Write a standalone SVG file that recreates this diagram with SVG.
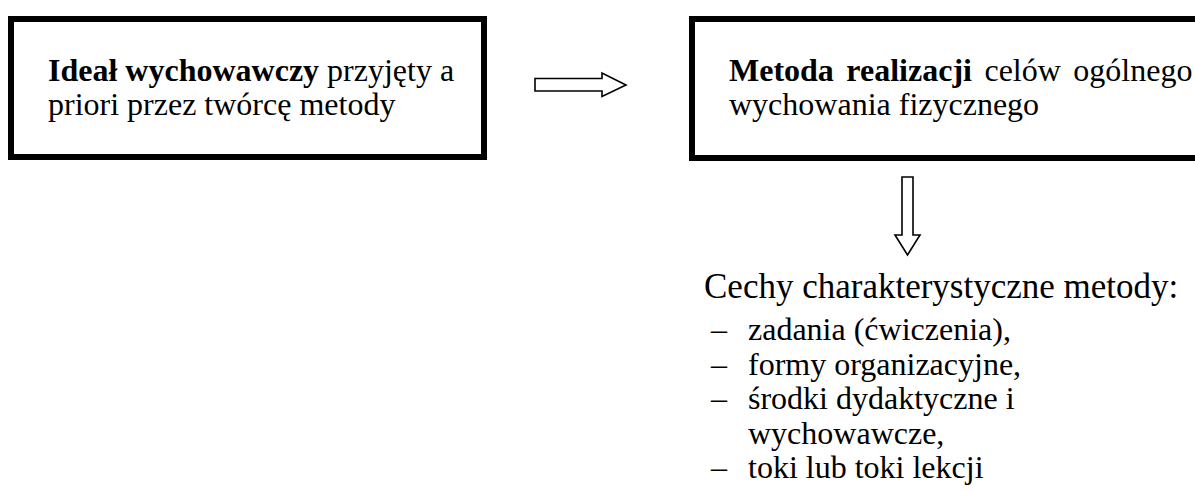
<svg xmlns="http://www.w3.org/2000/svg" width="1195" height="491" viewBox="0 0 1195 491">
  <style>
    .box { fill: #ffffff; stroke: #000000; stroke-width: 6; }
    .txt { font-family: "Liberation Serif", "Times New Roman", serif; font-size: 32px; fill: #000000; }
    .lead { font-size: 35px; }
    .b { font-weight: bold; }
    .arrow { fill: #ffffff; stroke: #000000; stroke-width: 1.6; stroke-linejoin: miter; }
  </style>
  <rect width="1195" height="491" fill="#ffffff"/>

  <!-- left node: educational ideal -->
  <g id="node-ideal">
    <rect class="box" x="11" y="19" width="473" height="138"/>
    <text class="txt" x="48" y="81"><tspan class="b">Ideał wychowawczy</tspan> przyjęty a</text>
    <text class="txt" x="48" y="115">priori przez twórcę metody</text>
  </g>

  <!-- right node: method (box runs off the right edge) -->
  <g id="node-metoda">
    <rect class="box" x="692" y="19" width="600" height="139"/>
    <text class="txt" x="729" y="81" word-spacing="4.5"><tspan class="b">Metoda realizacji</tspan> celów ogólnego</text>
    <text class="txt" x="729" y="115">wychowania fizycznego</text>
  </g>

  <!-- list of method features -->
  <g id="node-cechy">
    <text class="txt lead" x="704" y="298">Cechy charakterystyczne metody:</text>
    <text class="txt" x="711" y="340">–</text>
    <text class="txt" x="748" y="340">zadania (ćwiczenia),</text>
    <text class="txt" x="711" y="374.5">–</text>
    <text class="txt" x="748" y="374.5">formy organizacyjne,</text>
    <text class="txt" x="711" y="409">–</text>
    <text class="txt" x="748" y="409">środki dydaktyczne i</text>
    <text class="txt" x="748" y="443.5">wychowawcze,</text>
    <text class="txt" x="711" y="478">–</text>
    <text class="txt" x="748" y="478">toki lub toki lekcji</text>
  </g>

  <!-- block arrows -->
  <g id="connectors">
    <polygon class="arrow" points="535,78.5 602,78.5 602,73 626,85 602,96.5 602,91 535,91"/>
    <polygon class="arrow" points="902,177 913,177 913,235 920,235 907.5,255 895,235 902,235"/>
  </g>
</svg>
